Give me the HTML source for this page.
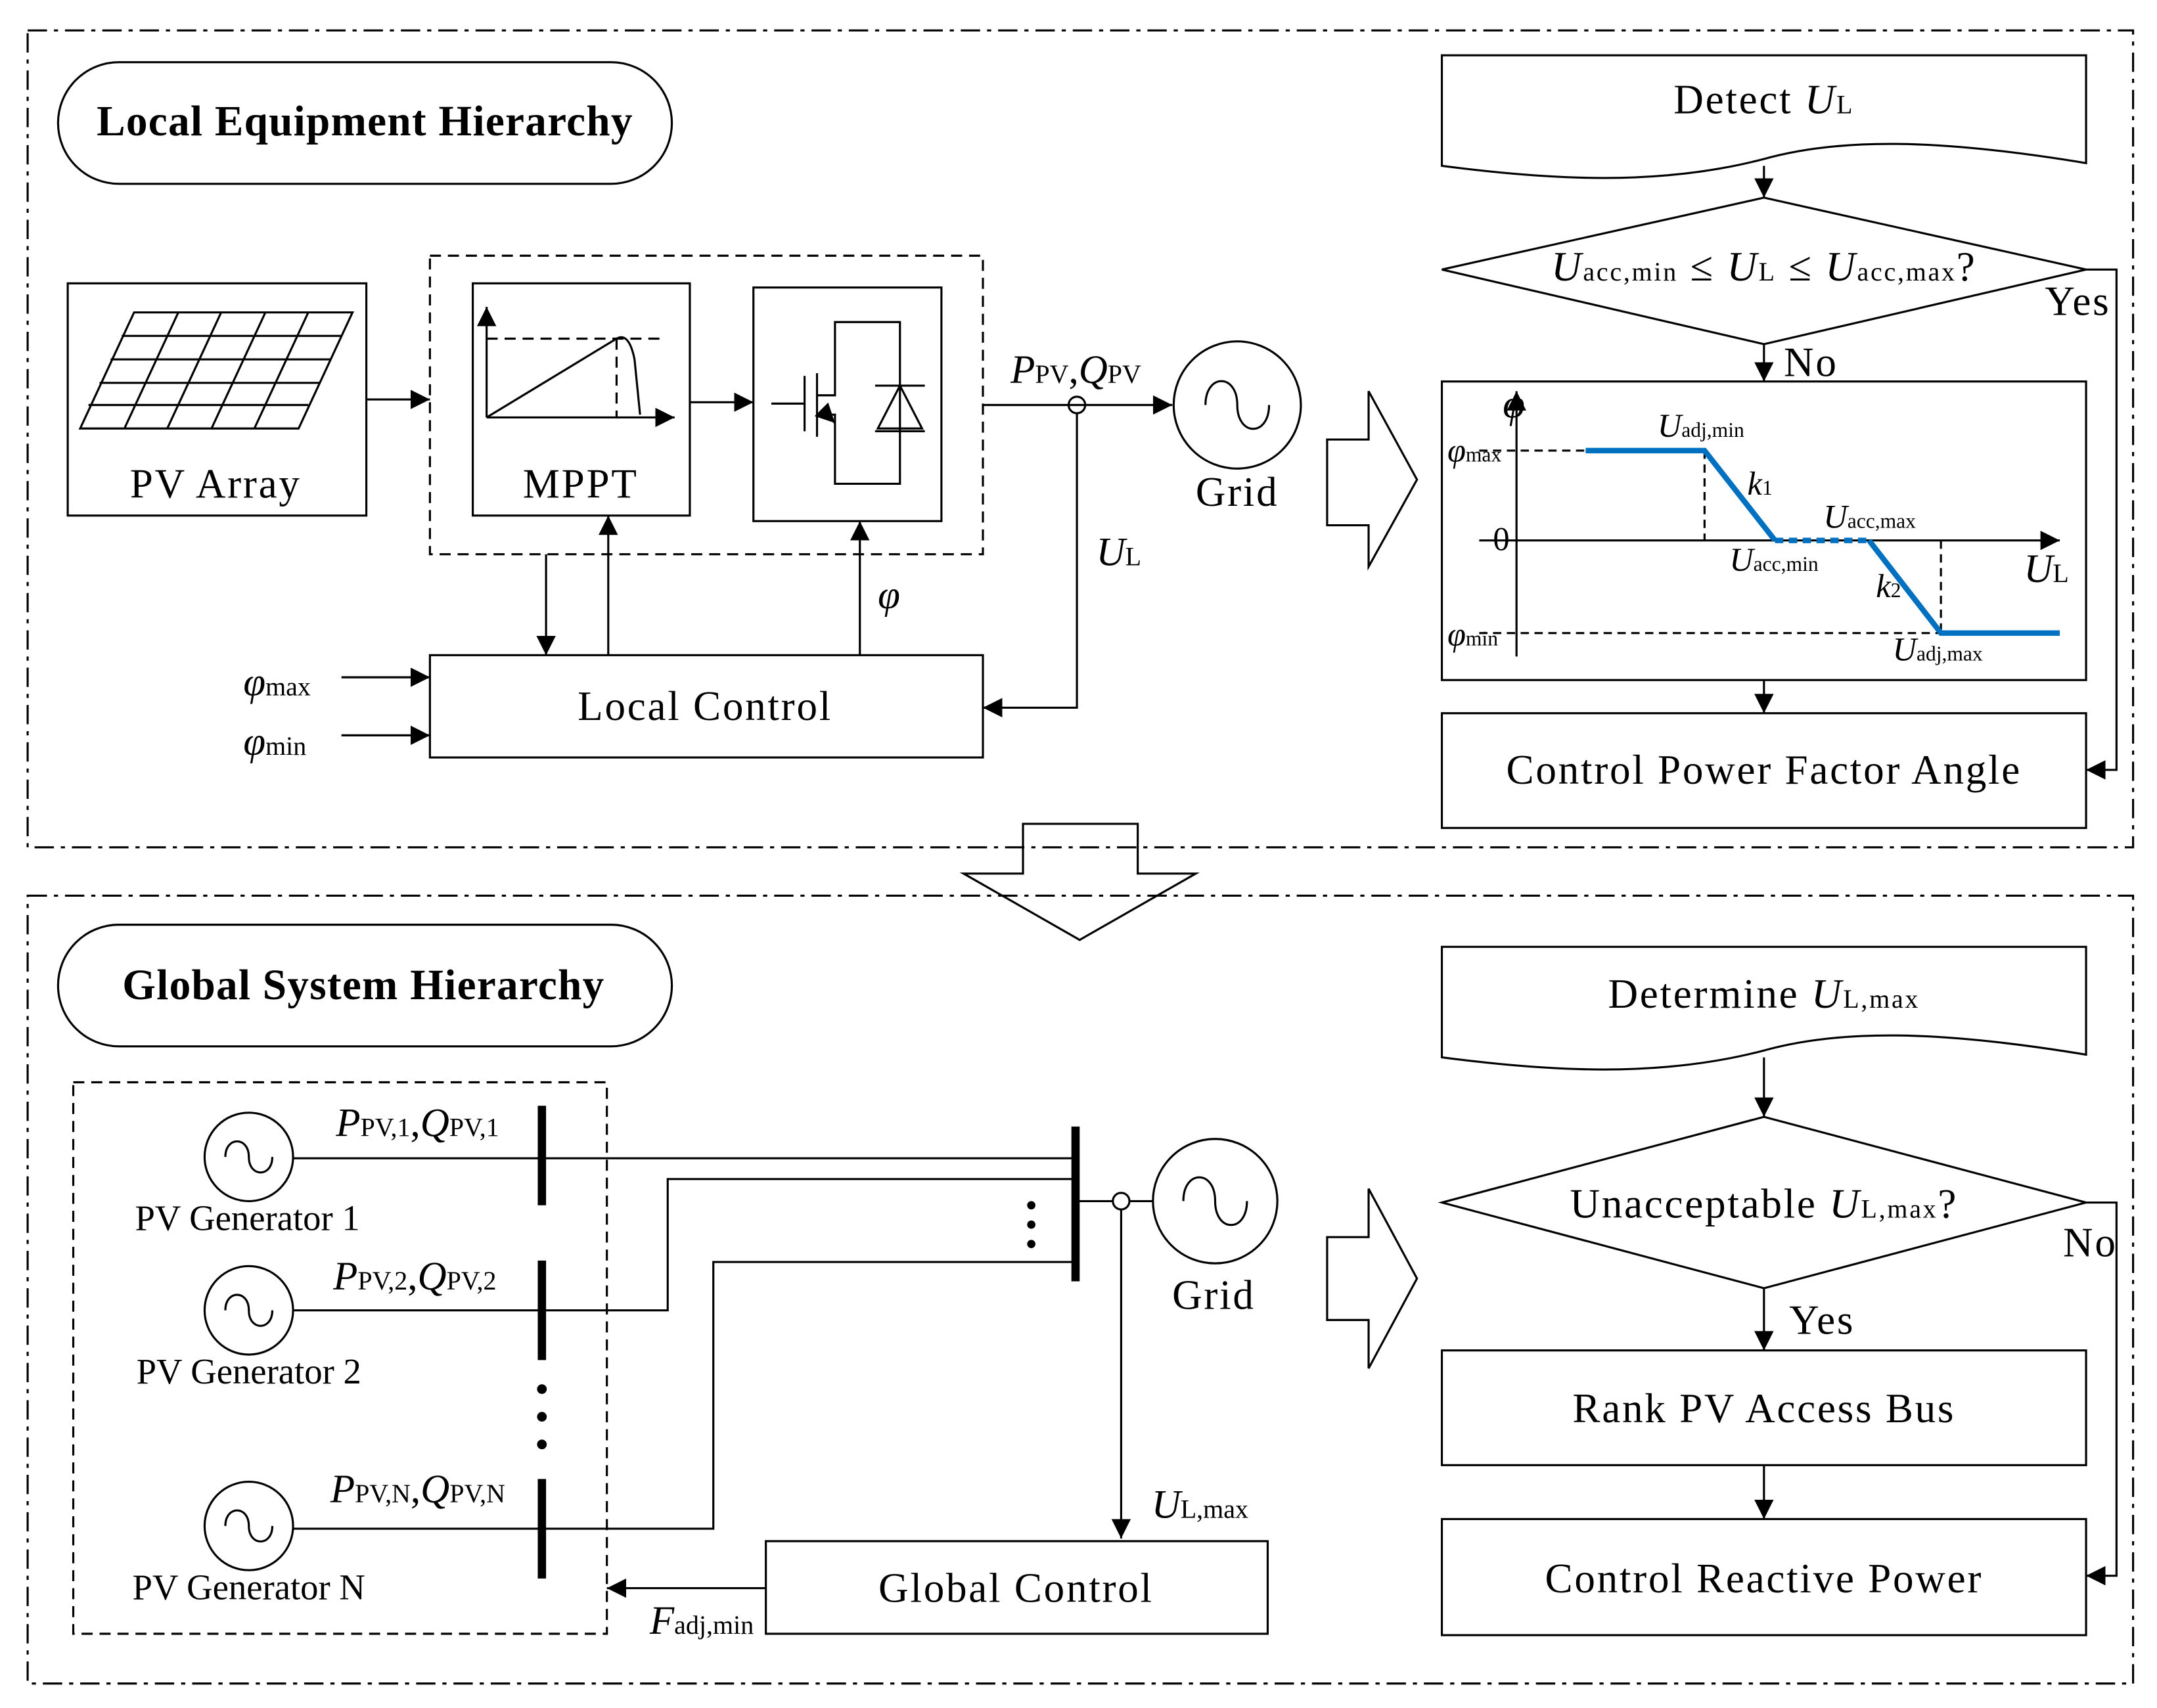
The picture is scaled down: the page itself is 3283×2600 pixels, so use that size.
<!DOCTYPE html>
<html><head><meta charset="utf-8"><style>
html,body{margin:0;padding:0;background:#fff}
svg{display:block}
text{font-family:"Liberation Serif",serif;fill:#000}
</style></head><body>
<svg width="3283" height="2600" viewBox="0 0 1560.3 1235.7" preserveAspectRatio="none" xmlns="http://www.w3.org/2000/svg">
<defs>
<marker id="b" viewBox="0 0 10 10" refX="10" refY="5" markerWidth="14" markerHeight="14" orient="auto" markerUnits="userSpaceOnUse"><path d="M0,0L10,5L0,10z" fill="#000"/></marker>
</defs>
<g fill="none" stroke="#000" stroke-width="1.5">
<rect x="20" y="22" width="1523" height="591" stroke-dasharray="14,5,3,5"/>
<rect x="20" y="648" width="1523" height="570" stroke-dasharray="14,5,3,5"/>
<rect x="42" y="45" width="444" height="88" rx="44"/>
<rect x="42" y="669" width="444" height="88" rx="44"/>
<rect x="49" y="205" width="216" height="168"/>
<path d="M97,226L255,226L216,310L58,310Z M88,243L247,243 M80,260L239,260 M72,277L231,277 M64,293L223,293 M129,226L90,310 M160,226L121,310 M192,226L153,310 M223,226L184,310"/>
<rect x="311" y="185" width="400" height="216" stroke-dasharray="8,5"/>
<rect x="342" y="205" width="157" height="168"/>
<path d="M352,302L488,302" marker-end="url(#b)"/>
<path d="M352,302L352,222" marker-end="url(#b)"/>
<path d="M352,302L446,245 Q455,240 459,260 L463,300"/>
<path d="M352,245L480,245 M446,245L446,302" stroke-dasharray="8,5"/>
<rect x="545" y="208" width="136" height="169"/>
<path d="M558,292L582,292 M582,272L582,312 M591,270L591,316 M591,286L604,286 L604,233 L651,233 L651,350 L604,350 L604,300 L591,300 M633,279L669,279 M633,312L669,312 M651,279L635,310L667,310Z"/>
<path d="M596,298L604,306" marker-end="url(#b)"/>
<path d="M265,289L311,289" marker-end="url(#b)"/>
<path d="M499,291L545,291" marker-end="url(#b)"/>
<path d="M711,293L848,293" marker-end="url(#b)"/>
<circle cx="779" cy="293" r="6" fill="#fff"/>
<path d="M773,293L785,293"/>
<circle cx="895" cy="293" r="46"/>
<path d="M872,293 C872,270 895,270 895,293 C895,316 918,316 918,293"/>
<path d="M779,299L779,512L711,512" marker-end="url(#b)"/>
<rect x="311" y="474" width="400" height="74"/>
<path d="M395,401L395,474" marker-end="url(#b)"/>
<path d="M440,474L440,373" marker-end="url(#b)"/>
<path d="M622,474L622,377" marker-end="url(#b)"/>
<path d="M247,490L311,490" marker-end="url(#b)"/>
<path d="M247,532L311,532" marker-end="url(#b)"/>
<path d="M960,318L990,318L990,283L1025,347L990,410L990,380L960,380Z"/>
<path d="M740,596L823,596L823,632L865,632L781,680L697,632L740,632Z"/>
<path d="M1043,40L1509,40L1509,118 C1400,100 1330,100 1276,115 C1200,135 1120,130 1043,120Z"/>
<path d="M1276,120L1276,143" marker-end="url(#b)"/>
<path d="M1043,195L1276,143L1509,195L1276,249Z"/>
<path d="M1509,195L1531,195L1531,557L1509,557" marker-end="url(#b)"/>
<path d="M1276,249L1276,276" marker-end="url(#b)"/>
<rect x="1043" y="276" width="466" height="216"/>
<path d="M1097,475L1097,283" marker-end="url(#b)"/>
<path d="M1070,391L1490,391" marker-end="url(#b)"/>
<path d="M1070,326L1147,326 M1233,326L1233,391 M1070,458L1404,458 M1404,391L1404,458" stroke-dasharray="6,4"/>
<path d="M1276,492L1276,516" marker-end="url(#b)"/>
<rect x="1043" y="516" width="466" height="83"/>
<rect x="53" y="783" width="386" height="399" stroke-dasharray="8,5"/>
<circle cx="180" cy="837" r="32"/><circle cx="180" cy="948" r="32"/><circle cx="180" cy="1104" r="32"/>
<path d="M163,837C163,822 180,822 180,837C180,852 197,852 197,837 M163,948C163,933 180,933 180,948C180,963 197,963 197,948 M163,1104C163,1089 180,1089 180,1104C180,1119 197,1119 197,1104"/>
<path d="M212,838L778,838 M212,948L483,948L483,853L778,853 M212,1106L516,1106L516,913L778,913"/>
<path d="M778,869L834,869"/>
<circle cx="811" cy="869" r="6" fill="#fff"/>
<circle cx="879" cy="869" r="45"/>
<path d="M856,869C856,846 879,846 879,869C879,892 902,892 902,869"/>
<path d="M811,875L811,1113" marker-end="url(#b)"/>
<rect x="554" y="1115" width="363" height="67"/>
<path d="M554,1149L439,1149" marker-end="url(#b)"/>
<path d="M960,895L990,895L990,860L1025,925L990,990L990,955L960,955Z"/>
<path d="M1043,685L1509,685L1509,763 C1400,745 1330,745 1276,760 C1200,780 1120,775 1043,765Z"/>
<path d="M1276,765L1276,808" marker-end="url(#b)"/>
<path d="M1043,870L1276,808L1509,870L1276,932Z"/>
<path d="M1509,870L1531,870L1531,1140L1509,1140" marker-end="url(#b)"/>
<path d="M1276,932L1276,977" marker-end="url(#b)"/>
<rect x="1043" y="977" width="466" height="83"/>
<path d="M1276,1060L1276,1099" marker-end="url(#b)"/>
<rect x="1043" y="1099" width="466" height="84"/>
</g>
<g stroke="#000" stroke-width="6">
<path d="M392,800L392,872 M392,912L392,984 M392,1070L392,1142 M778,815L778,927"/>
</g>
<g fill="#000"><circle cx="392" cy="1005" r="3.5"/><circle cx="392" cy="1025" r="3.5"/><circle cx="392" cy="1045" r="3.5"/>
<circle cx="746" cy="872" r="3"/><circle cx="746" cy="886" r="3"/><circle cx="746" cy="900" r="3"/></g>
<g fill="none" stroke="#0070C0" stroke-width="4">
<path d="M1147,326L1233,326L1284,391"/>
<path d="M1284,391L1352,391" stroke-dasharray="6,4"/>
<path d="M1352,391L1404,458L1490,458"/>
</g>
<g font-size="31" letter-spacing="0.6">
<text x="264" y="98" text-anchor="middle" font-weight="bold">Local Equipment Hierarchy</text>
<text x="263" y="723" text-anchor="middle" font-weight="bold">Global System Hierarchy</text>
</g>
<g font-size="30" letter-spacing="1.3">
<text x="156" y="360" text-anchor="middle">PV Array</text>
<text x="420" y="360" text-anchor="middle">MPPT</text>
<text x="895" y="366" text-anchor="middle">Grid</text>
<text x="510" y="521" text-anchor="middle">Local Control</text>
<text x="878" y="947" text-anchor="middle">Grid</text>
<text x="735" y="1159" text-anchor="middle">Global Control</text>
<text x="1276" y="82" text-anchor="middle">Detect <tspan font-style="italic">U</tspan><tspan font-size="19">L</tspan></text>
<text x="1276" y="203" text-anchor="middle"><tspan font-style="italic">U</tspan><tspan font-size="19">acc,min</tspan> ≤ <tspan font-style="italic">U</tspan><tspan font-size="19">L</tspan> ≤ <tspan font-style="italic">U</tspan><tspan font-size="19">acc,max</tspan>?</text>
<text x="1503" y="228" text-anchor="middle">Yes</text>
<text x="1310" y="272" text-anchor="middle">No</text>
<text x="1276" y="567" text-anchor="middle">Control Power Factor Angle</text>
<text x="1276" y="729" text-anchor="middle">Determine <tspan font-style="italic">U</tspan><tspan font-size="19">L,max</tspan></text>
<text x="1276" y="881" text-anchor="middle">Unacceptable <tspan font-style="italic">U</tspan><tspan font-size="19">L,max</tspan>?</text>
<text x="1512" y="909" text-anchor="middle">No</text>
<text x="1318" y="965" text-anchor="middle">Yes</text>
<text x="1276" y="1029" text-anchor="middle">Rank PV Access Bus</text>
<text x="1276" y="1152" text-anchor="middle">Control Reactive Power</text>
</g>
<g font-size="29">
<text x="731" y="277"><tspan font-style="italic">P</tspan><tspan font-size="19">PV</tspan>,<tspan font-style="italic">Q</tspan><tspan font-size="19">PV</tspan></text>
<text x="793" y="409"><tspan font-style="italic">U</tspan><tspan font-size="19">L</tspan></text>
<text x="635" y="440" font-style="italic">φ</text>
<text x="176" y="503"><tspan font-style="italic">φ</tspan><tspan font-size="19">max</tspan></text>
<text x="176" y="546"><tspan font-style="italic">φ</tspan><tspan font-size="19">min</tspan></text>
<text x="243" y="822"><tspan font-style="italic">P</tspan><tspan font-size="19">PV,1</tspan>,<tspan font-style="italic">Q</tspan><tspan font-size="19">PV,1</tspan></text>
<text x="241" y="933"><tspan font-style="italic">P</tspan><tspan font-size="19">PV,2</tspan>,<tspan font-style="italic">Q</tspan><tspan font-size="19">PV,2</tspan></text>
<text x="239" y="1087"><tspan font-style="italic">P</tspan><tspan font-size="19">PV,N</tspan>,<tspan font-style="italic">Q</tspan><tspan font-size="19">PV,N</tspan></text>
<text x="833" y="1098"><tspan font-style="italic">U</tspan><tspan font-size="19">L,max</tspan></text>
<text x="470" y="1182"><tspan font-style="italic">F</tspan><tspan font-size="19">adj,min</tspan></text>
<text x="1464" y="421"><tspan font-style="italic">U</tspan><tspan font-size="19">L</tspan></text>
<text x="1087" y="302" font-style="italic">φ</text>
</g>
<g font-size="26">
<text x="179" y="890" text-anchor="middle">PV Generator 1</text>
<text x="180" y="1001" text-anchor="middle">PV Generator 2</text>
<text x="180" y="1157" text-anchor="middle">PV Generator N</text>
</g>
<g font-size="24">
<text x="1080" y="398">0</text>
<text x="1199" y="316"><tspan font-style="italic">U</tspan><tspan font-size="15">adj,min</tspan></text>
<text x="1264" y="358"><tspan font-style="italic">k</tspan><tspan font-size="15">1</tspan></text>
<text x="1319" y="382"><tspan font-style="italic">U</tspan><tspan font-size="15">acc,max</tspan></text>
<text x="1251" y="413"><tspan font-style="italic">U</tspan><tspan font-size="15">acc,min</tspan></text>
<text x="1357" y="432"><tspan font-style="italic">k</tspan><tspan font-size="15">2</tspan></text>
<text x="1369" y="478"><tspan font-style="italic">U</tspan><tspan font-size="15">adj,max</tspan></text>
<text x="1047" y="334"><tspan font-style="italic">φ</tspan><tspan font-size="15">max</tspan></text>
<text x="1047" y="467"><tspan font-style="italic">φ</tspan><tspan font-size="15">min</tspan></text>
</g>
</svg>
</body></html>
